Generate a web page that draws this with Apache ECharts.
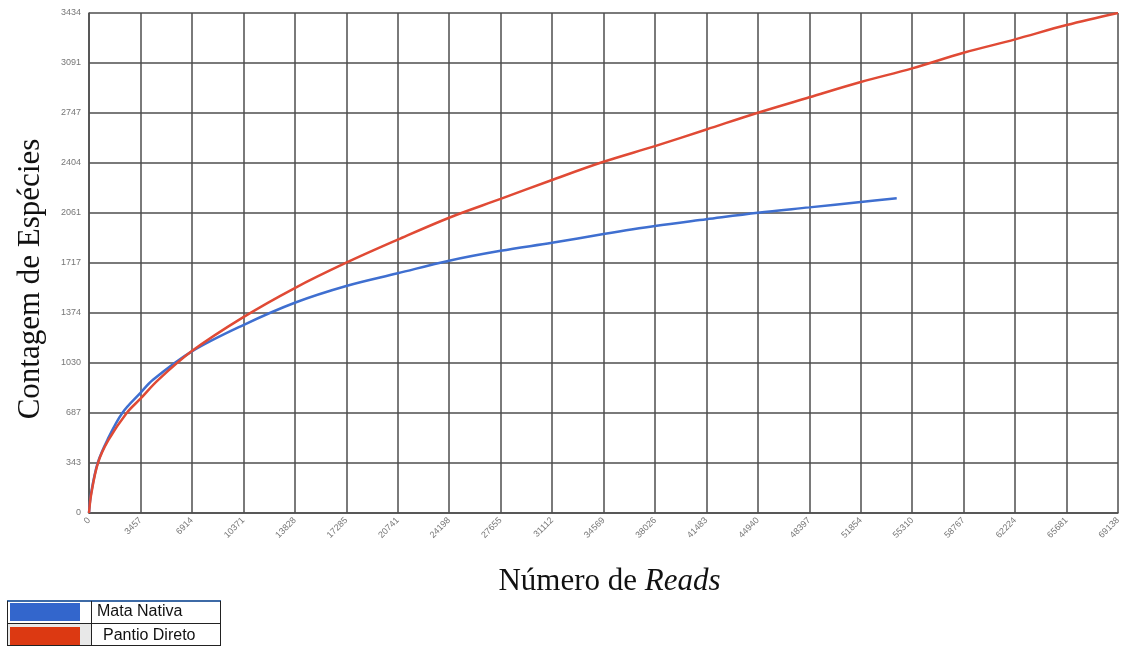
<!DOCTYPE html>
<html>
<head>
<meta charset="utf-8">
<script src="https://cdn.jsdelivr.net/npm/echarts@6/dist/echarts.min.js"></script>
<style>
html,body{margin:0;padding:0;background:#fff;}
#chart{width:1129px;height:646px;}
</style>
</head>
<body>
<div id="chart"></div>
<script>
// Tick labels
var xTickLabels = ['0','3457','6914','10371','13828','17285','20741','24198','27655','31112','34569','38026','41483','44940','48397','51854','55310','58767','62224','65681','69138'];
var yTickLabels = ['0','343','687','1030','1374','1717','2061','2404','2747','3091','3434'];
var xMax = 69138;
var yMax = 3434;

// Series names
var seriesNames = ['Mata Nativa', 'Pantio Direto'];

// Mata Nativa (blue)
var mataReads = [0,140,580,1250,2238,3457,4300,6914,10371,13828,17285,20741,24198,27655,31112,34569,38026,41483,44940,48397,51854,54270];
var mataSpecies = [0,135,343,505,687,825,915,1110,1291,1444,1559,1646,1733,1801,1856,1916,1971,2017,2062,2099,2136,2161];

// Pantio Direto (red)
var pantioReads = [0,150,600,1300,2533,3457,4636,6914,10371,13828,17285,20741,24198,27655,31112,34569,38026,41483,44940,48397,51854,55310,58767,62224,65681,69138];
var pantioSpecies = [0,130,343,500,687,785,913,1112,1345,1545,1719,1877,2028,2157,2287,2412,2520,2634,2749,2855,2960,3054,3161,3253,3351,3434];

function zip(a, b){ return a.map(function(v,i){ return [v, b[i]]; }); }

var xInterval = xMax / (xTickLabels.length - 1);
var yInterval = yMax / (yTickLabels.length - 1);
var gridColor = '#4e4e4e';

function legendFor(name, top, indent){
  return {
    orient: 'horizontal', left: 10, top: top, padding: 0,
    icon: 'rect', itemWidth: 70, itemHeight: 18,
    data: [name],
    textStyle: { fontFamily: 'Liberation Sans', fontSize: 16, color: '#111', padding: [8,0,0,indent] },
    selectedMode: false
  };
}

var chart = echarts.init(document.getElementById('chart'));
chart.setOption({
  animation: false,
  backgroundColor: '#ffffff',
  grid: { left: 89, right: 11, top: 13, bottom: 133, containLabel: false },
  xAxis: {
    type: 'value', min: 0, max: xMax, interval: xInterval,
    name: 'Número de {i|Reads}',
    nameLocation: 'middle', nameGap: 53,
    nameTextStyle: {
      fontFamily: 'Liberation Serif', fontSize: 31, color: '#111', padding: [0,0,0,12],
      rich: { i: { fontFamily: 'Liberation Serif', fontStyle: 'italic', fontSize: 31, color: '#111' } }
    },
    axisLine: { show: true, lineStyle: { color: gridColor, width: 1.5 } },
    axisTick: { show: false },
    splitLine: { show: true, lineStyle: { color: gridColor, width: 1.5 } },
    axisLabel: {
      rotate: 45, fontSize: 9, color: '#777', fontFamily: 'Liberation Sans', margin: 6,
      showMinLabel: true, showMaxLabel: true,
      formatter: function(v){ return xTickLabels[Math.round(v / xInterval)]; }
    }
  },
  yAxis: {
    type: 'value', min: 0, max: yMax, interval: yInterval,
    name: 'Contagem de Espécies',
    nameLocation: 'middle', nameGap: 43, nameRotate: 90,
    nameTextStyle: { fontFamily: 'Liberation Serif', fontSize: 31, color: '#111', padding: [0,32,0,0] },
    axisLine: { show: true, lineStyle: { color: gridColor, width: 1.5 } },
    axisTick: { show: false },
    splitLine: { show: true, lineStyle: { color: gridColor, width: 1.5 } },
    axisLabel: {
      fontSize: 9, color: '#777', fontFamily: 'Liberation Sans', margin: 8,
      showMinLabel: true, showMaxLabel: true,
      formatter: function(v){ return yTickLabels[Math.round(v / yInterval)]; }
    }
  },
  legend: [ legendFor(seriesNames[0], 603, 12), legendFor(seriesNames[1], 627, 18) ],
  graphic: [
    { type: 'rect', z: 0, shape: { x: 8, y: 624, width: 83, height: 22 }, style: { fill: '#e8e8e8' } },
    { type: 'line', z: 10, shape: { x1: 7, y1: 601, x2: 221, y2: 601 }, style: { stroke: '#3d6aa6', lineWidth: 2 } },
    { type: 'line', z: 10, shape: { x1: 7, y1: 623.5, x2: 221, y2: 623.5 }, style: { stroke: '#222', lineWidth: 1 } },
    { type: 'line', z: 10, shape: { x1: 7, y1: 645.5, x2: 221, y2: 645.5 }, style: { stroke: '#222', lineWidth: 1 } },
    { type: 'line', z: 10, shape: { x1: 7.5, y1: 601, x2: 7.5, y2: 646 }, style: { stroke: '#222', lineWidth: 1 } },
    { type: 'line', z: 10, shape: { x1: 91.5, y1: 601, x2: 91.5, y2: 646 }, style: { stroke: '#222', lineWidth: 1 } },
    { type: 'line', z: 10, shape: { x1: 220.5, y1: 601, x2: 220.5, y2: 646 }, style: { stroke: '#222', lineWidth: 1 } }
  ],
  series: [
    {
      name: seriesNames[0], type: 'line', data: zip(mataReads, mataSpecies),
      smooth: 0.35, showSymbol: false, symbol: 'none',
      color: '#3366CC', lineStyle: { width: 2.5, color: '#3f6fd0' }, z: 3
    },
    {
      name: seriesNames[1], type: 'line', data: zip(pantioReads, pantioSpecies),
      smooth: 0.35, showSymbol: false, symbol: 'none',
      color: '#DC3912', lineStyle: { width: 2.5, color: '#e04a35' }, z: 4
    }
  ]
});
</script>
</body>
</html>
